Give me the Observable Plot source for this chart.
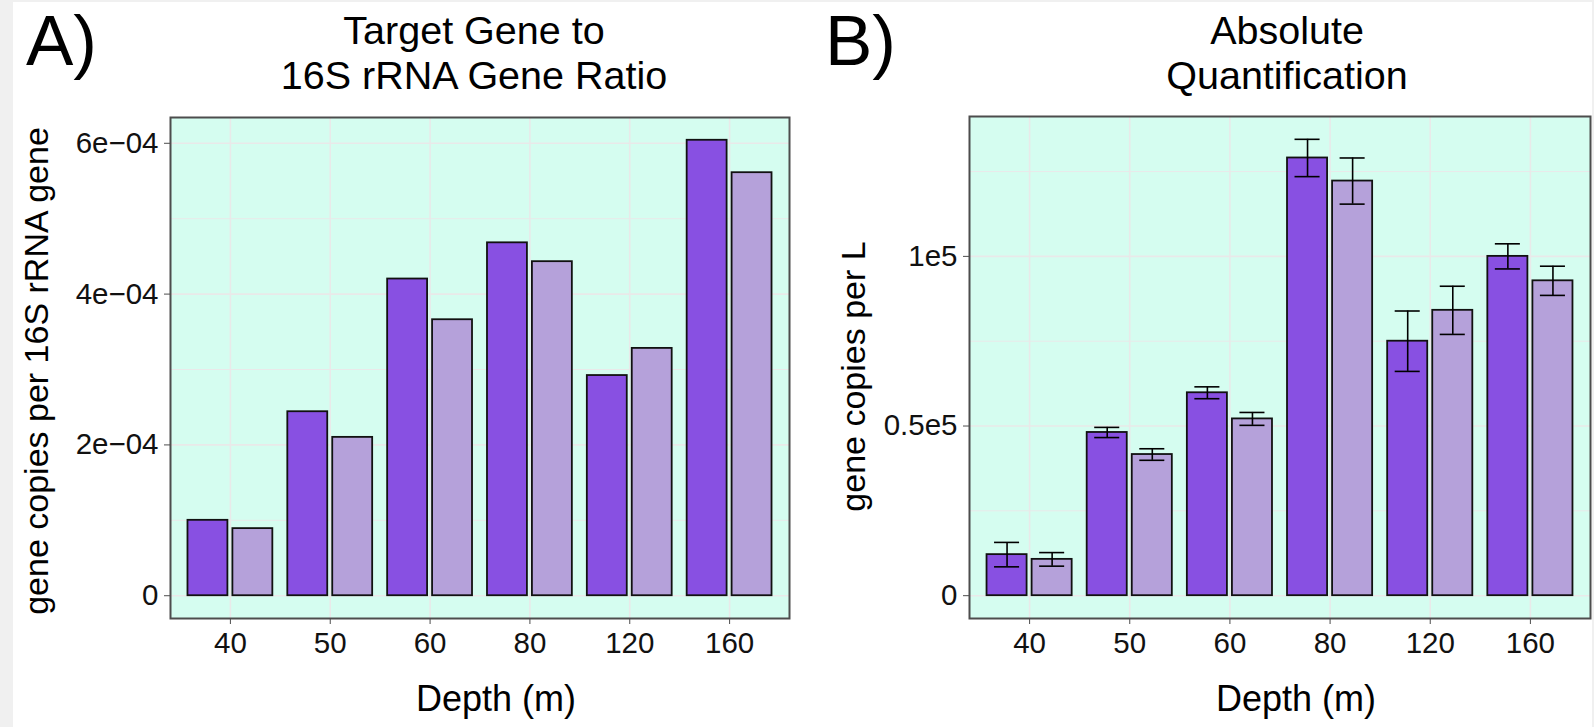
<!DOCTYPE html>
<html>
<head>
<meta charset="utf-8">
<script src="https://cdn.jsdelivr.net/npm/d3@7"></script>
<script src="https://cdn.jsdelivr.net/npm/@observablehq/plot@0.6"></script>
<style>
  html, body { margin: 0; padding: 0; background: #f0f0f0; }
  body { width: 1594px; height: 727px; position: relative; overflow: hidden; font-family: "Liberation Sans", Arial, sans-serif; }
  #page { position: absolute; left: 13px; top: 2px; width: 1579px; height: 725px; background: #ffffff; }
  .tag { position: absolute; font-size: 71px; line-height: 70px; color: #000; }
  .title { position: absolute; font-size: 39.5px; line-height: 45px; text-align: center; color: #000; width: 700px; }
  .chart { position: absolute; top: 98px; }
</style>
</head>
<body>
<div id="page">
  <div class="tag" style="left:13px; top:4px;">A)</div>
  <div class="title" style="left:111px; top:6px;">Target Gene to<br>16S rRNA Gene Ratio</div>
  <div class="chart" id="chartA" style="left:0px;"></div>
  <div class="tag" style="left:812px; top:4px;">B)</div>
  <div class="title" style="left:924px; top:6px;">Absolute<br>Quantification</div>
  <div class="chart" id="chartB" style="left:787px;"></div>
</div>
<script>
// ---- data ----
const depths = ["40", "50", "60", "80", "120", "160"];
const seriesNames = ["Series 1", "Series 2"];
const seriesColors = ["#8850e2", "#b5a1da"];

// Panel A: target gene to 16S rRNA gene ratio
const ratioS1 = [1.00e-4, 2.44e-4, 4.20e-4, 4.68e-4, 2.92e-4, 6.04e-4];
const ratioS2 = [0.89e-4, 2.10e-4, 3.66e-4, 4.43e-4, 3.28e-4, 5.61e-4];
const ratioTicks = [0, 2e-4, 4e-4, 6e-4];
const ratioTickLabels = ["0", "2e\u221204", "4e\u221204", "6e\u221204"];
const ratioMinor = [1e-4, 3e-4, 5e-4];

// Panel B: absolute quantification (gene copies per L) with error
const absS1 = [12100, 48100, 59800, 129000, 75000, 100000];
const absS2 = [10700, 41600, 52100, 122200, 84100, 92800];
const absErrS1 = [3600, 1500, 1750, 5500, 8900, 3700];
const absErrS2 = [2000, 1700, 1900, 6800, 7100, 4300];
const absTicks = [0, 50000, 100000];
const absTickLabels = ["0", "0.5e5", "1e5"];
const absMinor = [25000, 75000, 125000];

// ---- layout constants (ggplot-like dodge) ----
const dodge = 0.225, halfBar = 0.2, halfCap = 0.125;
const offsets = {[seriesNames[0]]: -dodge, [seriesNames[1]]: dodge};
const idx = depths.map((d, i) => i);

function rows(v1, v2, e1, e2) {
  const out = [];
  depths.forEach((d, i) => {
    out.push({i, depth: d, series: seriesNames[0], value: v1[i], err: e1 ? e1[i] : 0});
    out.push({i, depth: d, series: seriesNames[1], value: v2[i], err: e2 ? e2[i] : 0});
  });
  return out;
}

const panelBg = "#d5fdf0";
const gridColor = "#e9e9e9";
const font = "Liberation Sans, Arial, sans-serif";

function makeChart({data, ticks, tickLabels, minor, yLabel, errors, width, marginLeft, marginRight, marginTop, yLabelOffset, yLabelShift}) {
  const top = d3.max(data, d => d.value + d.err);
  const yDomain = [-0.05 * top, top * 1.05];
  const center = d => d.i + offsets[d.series];
  const marks = [
    Plot.frame({fill: panelBg, stroke: null}),
    Plot.ruleY(minor, {stroke: gridColor, strokeWidth: 1}),
    Plot.ruleY(ticks, {stroke: gridColor, strokeWidth: 1.6}),
    Plot.ruleX(idx, {stroke: gridColor, strokeWidth: 1.6}),
    Plot.rect(data, {
      x1: d => center(d) - halfBar,
      x2: d => center(d) + halfBar,
      y1: 0,
      y2: "value",
      fill: "series",
      stroke: "#111",
      strokeWidth: 1.8
    })
  ];
  if (errors) {
    marks.push(
      Plot.ruleX(data, {x: center, y1: d => d.value - d.err, y2: d => d.value + d.err, stroke: "#000", strokeWidth: 1.6}),
      Plot.ruleY(data, {y: d => d.value + d.err, x1: d => center(d) - halfCap, x2: d => center(d) + halfCap, stroke: "#000", strokeWidth: 1.6}),
      Plot.ruleY(data, {y: d => d.value - d.err, x1: d => center(d) - halfCap, x2: d => center(d) + halfCap, stroke: "#000", strokeWidth: 1.6})
    );
  }
  marks.push(
    Plot.frame({stroke: "#4d4d4d", strokeWidth: 2}),
    Plot.axisX(idx, {
      tickFormat: i => depths[i],
      tickSize: 6, tickPadding: 8, fontSize: 29.5, label: null,
      stroke: "#4d4d4d", fill: "#111"
    }),
    Plot.axisY(ticks, {
      tickFormat: d => tickLabels[ticks.indexOf(d)],
      tickSize: 6, tickPadding: 6, fontSize: 29.5, label: null,
      stroke: "#4d4d4d", fill: "#111"
    }),
    Plot.text([yLabel], {frameAnchor: "left", textAnchor: "middle", dx: -yLabelOffset, dy: yLabelShift, rotate: -90, fontSize: 34, fill: "#000", text: d => d}),
    Plot.text(["Depth (m)"], {frameAnchor: "bottom", textAnchor: "middle", dx: 16, dy: 92, fontSize: 36, fill: "#000", text: d => d})
  );
  return Plot.plot({
    width,
    height: 627,
    marginLeft, marginRight, marginTop,
    marginBottom: 109,
    style: {fontFamily: font, fontSize: "28px", background: "transparent", overflow: "visible"},
    x: {type: "linear", domain: [-0.6, depths.length - 0.4], axis: null},
    y: {domain: yDomain, axis: null},
    color: {domain: seriesNames, range: seriesColors},
    marks
  });
}

document.getElementById("chartA").append(makeChart({
  data: rows(ratioS1, ratioS2),
  ticks: ratioTicks, tickLabels: ratioTickLabels, minor: ratioMinor,
  yLabel: "gene copies per 16S rRNA gene",
  errors: false,
  width: 787, marginLeft: 157, marginRight: 11, marginTop: 17,
  yLabelOffset: 133, yLabelShift: 3
}));

document.getElementById("chartB").append(makeChart({
  data: rows(absS1, absS2, absErrS1, absErrS2),
  ticks: absTicks, tickLabels: absTickLabels, minor: absMinor,
  yLabel: "gene copies per L",
  errors: true,
  width: 792, marginLeft: 169, marginRight: 2, marginTop: 16,
  yLabelOffset: 115, yLabelShift: 9
}));
</script>
</body>
</html>
